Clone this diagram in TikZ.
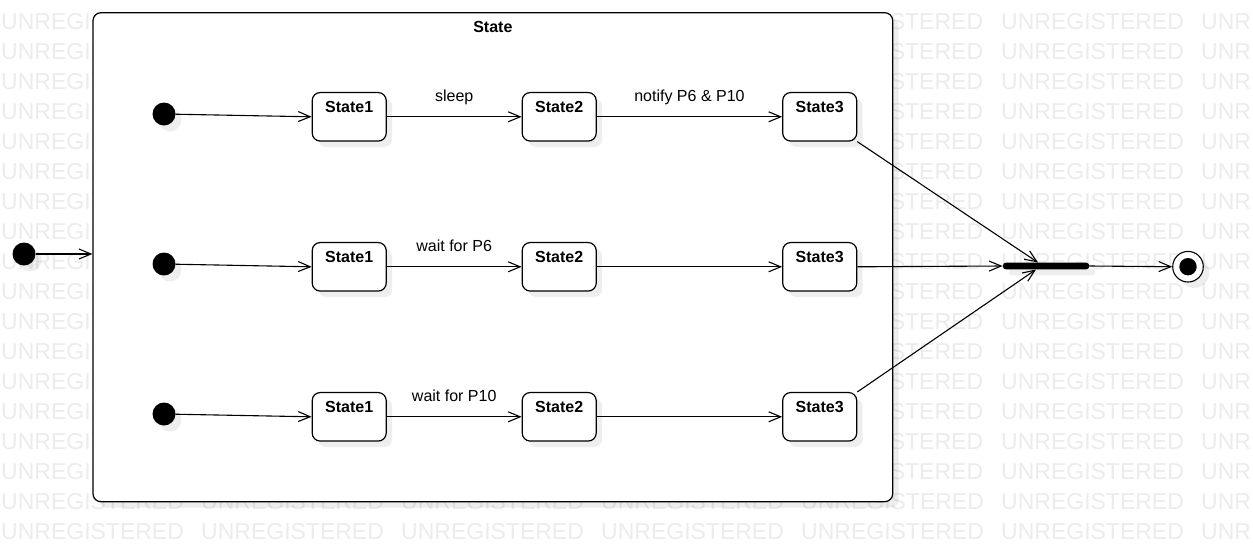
\documentclass[tikz,border=0pt]{standalone}
\usepackage{fontspec}
\setmainfont{Liberation Sans}
\usetikzlibrary{arrows.meta,shadows,calc}
\definecolor{wm}{HTML}{ECECEC}
\begin{document}
\begin{tikzpicture}[x=1pt,y=-1pt,
  shd/.style={drop shadow={shadow xshift=6pt,shadow yshift=-6pt,fill=black,opacity=0.065}},
  wmtext/.style={anchor=base west,inner sep=0pt,text=wm,font=\fontsize{23}{23}\selectfont},
  wmtexte/.style={anchor=base east,inner sep=0pt,text=wm,font=\fontsize{23}{23}\selectfont},
  framebox/.style={draw=black,line width=1.2pt,rounded corners=8pt,fill=white,shd,
    minimum width=799.7pt,minimum height=489pt,inner sep=0pt},
  stbox/.style={draw=black,line width=1.2pt,rounded corners=8pt,fill=white,shd,
    minimum width=74pt,minimum height=48.5pt,inner sep=0pt},
  stname/.style={anchor=base,yshift=-20.4pt,inner sep=0pt,font=\fontsize{16}{18}\selectfont\bfseries},
  initdot/.style={circle,fill=black,minimum size=23pt,inner sep=0pt,shd},
  finaldot/.style={circle,draw=black,line width=1.1pt,fill=white,minimum size=30.6pt,inner sep=0pt,shd,
    path picture={\fill[black] (path picture bounding box.center) circle (8.7pt);}},
  joinbar/.style={fill=black,rounded corners=3pt,minimum width=86.5pt,minimum height=6.6pt,inner sep=0pt,shd},
  trans/.style={draw=black,line width=1.1pt,-{Straight Barb[length=12pt,width=10pt]}},
  tlabel/.style={midway,anchor=base,yshift=15pt,inner sep=0pt,font=\fontsize{16}{18}\selectfont}
]
\useasboundingbox (0,0) rectangle (1253,552);
\fill[white] (0,0) rectangle (1253,552);
% watermark
\begin{scope}
\clip (0,0) rectangle (1253,552);
\foreach \r in {0,...,15}{
  \node[wmtext] (wa-\r) at (1,{29+30*\r}) {UNREGI};
  \node[wmtexte] (wb-\r) at (983.3,{29+30*\r}) {STERED};
  \node[wmtext] (wc-\r) at (1001,{29+30*\r}) {UNREGISTERED};
  \node[wmtext] (wd-\r) at (1201,{29+30*\r}) {UNR};
}
\foreach \r in {16,17}{
  \foreach \c in {0,...,5}{
    \node[wmtext] (w-\r-\c) at ({1+200*\c},{29+30*\r}) {UNREGISTERED};
  }
  \node[wmtext] (wd-\r) at (1201,{29+30*\r}) {UNR};
}
\end{scope}
% frame
\node[framebox,label={[stname]north:State}] (frame) at (492.85,257.2) {};
% outer initial state
\node[initdot] (d0) at (24,254) {};
\draw[trans] (d0) -- (d0 -| frame.west);
% initial dots
\node[initdot] (da) at (164,114) {};
\node[initdot] (db) at (164,264) {};
\node[initdot] (dc) at (164,414) {};
% states
\node[stbox,label={[stname]north:State1}] (a1) at (349.2,116.8) {};
\node[stbox,label={[stname]north:State2}] (a2) at (559.2,116.8) {};
\node[stbox,label={[stname]north:State3}] (a3) at (819.7,116.8) {};
\node[stbox,label={[stname]north:State1}] (b1) at (349.2,266.8) {};
\node[stbox,label={[stname]north:State2}] (b2) at (559.2,266.8) {};
\node[stbox,label={[stname]north:State3}] (b3) at (819.7,266.8) {};
\node[stbox,label={[stname]north:State1}] (c1) at (349.2,416.8) {};
\node[stbox,label={[stname]north:State2}] (c2) at (559.2,416.8) {};
\node[stbox,label={[stname]north:State3}] (c3) at (819.7,416.8) {};
% join bar and final state
\node[joinbar] (bar) at (1046,266) {};
\node[finaldot] (fin) at (1188,266.7) {};
% transitions
\draw[trans] (da) -- (a1.west);
\draw[trans] (db) -- (b1.west);
\draw[trans] (dc) -- (c1.west);
\draw[trans] (a1) -- node[tlabel] (la) {sleep} (a2);
\draw[trans] (a2) -- node[tlabel] (lb) {notify P6 \& P10} (a3);
\draw[trans] (b1) -- node[tlabel] (lc) {wait for P6} (b2);
\draw[trans] (b2) -- (b3);
\draw[trans] (c1) -- node[tlabel] (ld) {wait for P10} (c2);
\draw[trans] (c2) -- (c3);
\draw[trans] (a3.south east) -- ($(bar.north)+(-8,0)$);
\draw[trans] (b3.east) -- (bar.west);
\draw[trans] (c3.north east) -- ($(bar.south)+(-10,0)$);
\draw[trans] (bar.east) -- (fin.west);
\end{tikzpicture}
\end{document}
